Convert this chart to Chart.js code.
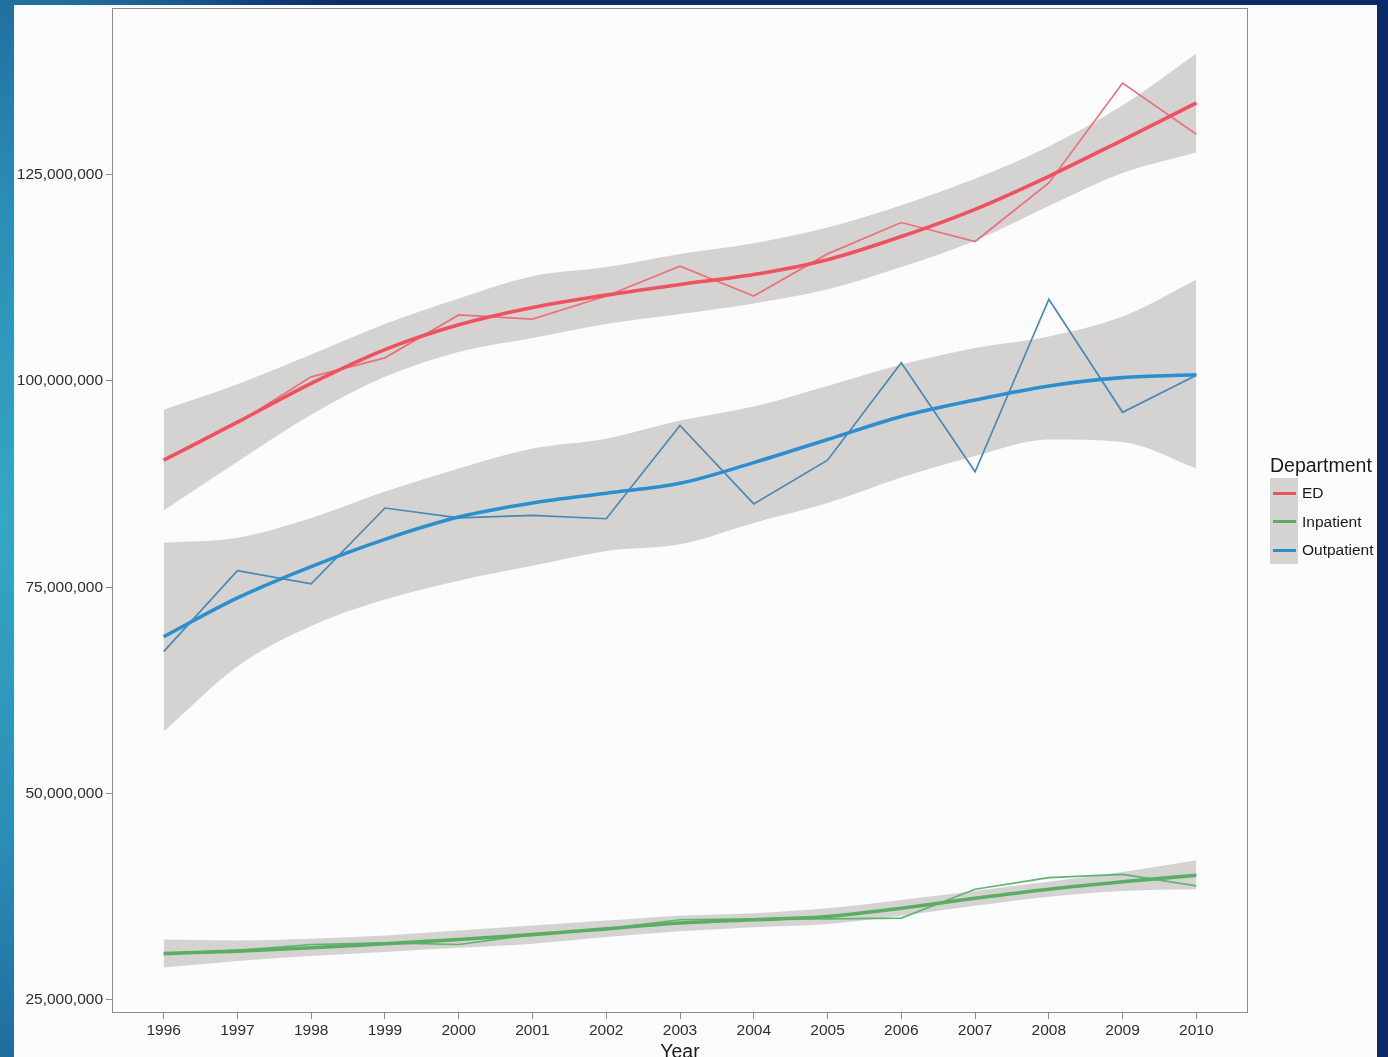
<!DOCTYPE html>
<html>
<head>
<meta charset="utf-8">
<title>Visits by Department, 1996–2010</title>
<script src="https://cdn.jsdelivr.net/npm/chart.js@4.4.1/dist/chart.umd.min.js"></script>
<style>
  html, body { margin: 0; padding: 0; width: 1388px; height: 1057px; overflow: hidden; }
  body {
    position: relative;
    background: radial-gradient(ellipse 420px 900px at 0px 520px, #35a6c8 0%, #2b8db5 35%, #1f6a9a 62%, #0f3a75 88%, #0b2b68 100%), #0b2b68;
    font-family: "Liberation Sans", Arial, Helvetica, sans-serif;
  }
  #card { position: absolute; left: 14px; top: 5px; width: 1363px; height: 1080px; background: #fcfcfc; }
  #wrap { position: absolute; left: 0; top: 0; width: 1388px; height: 1070px; }
  #legend-title { position: absolute; left: 1270px; top: 453px; font-size: 19.5px; line-height: 24px; color: #1a1a1a; white-space: nowrap; }
  #legend-keys { position: absolute; left: 1270px; top: 478px; width: 28px; background: #d6d3d3; }
  .key-row { position: relative; height: 28.67px; }
  .key-line { position: absolute; left: 3px; width: 23px; height: 3px; top: 13.5px; }
  .key-label { position: absolute; left: 32px; top: 1px; line-height: 28.67px; font-size: 15.5px; color: #1a1a1a; white-space: nowrap; }
</style>
</head>
<body>
<div id="card"></div>
<div id="wrap"><canvas id="chart" width="1388" height="1070"></canvas></div>
<div id="legend-title">Department</div>
<div id="legend-keys"></div>

<script>
// Years on the x axis
const years = [1996, 1997, 1998, 1999, 2000, 2001, 2002, 2003, 2004, 2005, 2006, 2007, 2008, 2009, 2010];

// Annual visits, in millions
const edRaw  = [90.4, 94.9, 100.5, 102.8, 108.0, 107.5, 110.3, 113.9, 110.3, 115.4, 119.2, 116.9, 124.0, 136.1, 129.9];
const inRaw  = [30.6, 31.0, 31.7, 31.9, 31.7, 32.9, 33.6, 34.7, 34.8, 34.8, 34.9, 38.4, 39.8, 40.2, 38.8];
const outRaw = [67.2, 77.0, 75.4, 84.6, 83.4, 83.7, 83.3, 94.6, 85.1, 90.4, 102.2, 89.0, 109.9, 96.2, 100.7];

// Loess trend and its confidence band, in millions
const edSmooth  = [90.4, 95.0, 99.7, 103.8, 106.8, 108.9, 110.4, 111.7, 112.9, 114.7, 117.5, 120.8, 124.8, 129.2, 133.7];
const edUpper   = [96.5, 99.6, 103.2, 106.9, 110.0, 112.7, 113.8, 115.4, 116.7, 118.6, 121.3, 124.5, 128.4, 133.4, 139.7];
const edLower   = [84.3, 90.2, 95.9, 100.5, 103.5, 105.2, 106.9, 108.1, 109.4, 111.1, 113.8, 117.0, 121.2, 125.2, 127.7];

const inSmooth  = [30.6, 30.9, 31.3, 31.8, 32.3, 32.9, 33.6, 34.3, 34.7, 35.1, 36.1, 37.3, 38.4, 39.3, 40.1];
const inUpper   = [32.3, 32.2, 32.4, 32.8, 33.4, 34.0, 34.6, 35.2, 35.5, 36.1, 37.1, 38.2, 39.3, 40.5, 41.9];
const inLower   = [28.9, 29.7, 30.3, 30.8, 31.3, 31.8, 32.6, 33.3, 33.8, 34.2, 35.2, 36.4, 37.5, 38.2, 38.4];

const outSmooth = [69.0, 73.7, 77.5, 80.8, 83.5, 85.2, 86.4, 87.6, 90.1, 92.9, 95.7, 97.7, 99.4, 100.4, 100.75];
const outUpper  = [80.4, 81.0, 83.4, 86.6, 89.4, 91.8, 93.0, 95.2, 96.9, 99.4, 102.0, 104.0, 105.4, 107.8, 112.3];
const outLower  = [57.5, 65.4, 70.3, 73.5, 75.8, 77.6, 79.4, 80.2, 82.8, 85.2, 88.3, 90.9, 92.9, 92.6, 89.4];

// Axis ticks
const yTicks = [25e6, 50e6, 75e6, 100e6, 125e6];
const xTicks = years;

// Department names and colours
const departments = ['ED', 'Inpatient', 'Outpatient'];
const trendColors = ['#ee525e', '#5aae63', '#2b8fcd'];
const rawColors   = ['#ea717a', '#62b46c', '#4789b3'];
const bandFill    = 'rgba(156, 148, 148, 0.4)';

const toPoints = arr => arr.map((v, i) => ({ x: years[i], y: v * 1e6 }));

const rawSets = [edRaw, inRaw, outRaw];
const smoothSets = [edSmooth, inSmooth, outSmooth];
const bandSets = [[edUpper, edLower], [inUpper, inLower], [outUpper, outLower]];

const datasets = [];
// confidence bands: upper edge filled down to the next (lower) dataset
bandSets.forEach(([up, lo], k) => {
  datasets.push({
    label: departments[k] + ' upper',
    data: toPoints(up),
    borderWidth: 0,
    pointRadius: 0,
    cubicInterpolationMode: 'monotone',
    fill: { target: '+1', above: bandFill, below: bandFill },
    order: 3
  });
  datasets.push({
    label: departments[k] + ' lower',
    data: toPoints(lo),
    borderWidth: 0,
    pointRadius: 0,
    cubicInterpolationMode: 'monotone',
    fill: false,
    order: 3
  });
});
// observed values
rawSets.forEach((arr, k) => datasets.push({
  label: departments[k] + ' observed',
  data: toPoints(arr),
  borderColor: rawColors[k],
  borderWidth: 1.7,
  pointRadius: 0,
  tension: 0,
  fill: false,
  order: 2
}));
// loess trend lines on top
smoothSets.forEach((arr, k) => datasets.push({
  label: departments[k],
  data: toPoints(arr),
  borderColor: trendColors[k],
  borderWidth: 3.6,
  pointRadius: 0,
  cubicInterpolationMode: 'monotone',
  fill: false,
  order: 1
}));

// Panel border drawn over the data, like a framed plotting panel
const panelBorder = {
  id: 'panelBorder',
  afterDatasetsDraw(chart) {
    const { ctx, chartArea: a } = chart;
    ctx.save();
    ctx.strokeStyle = '#8c8c8c';
    ctx.lineWidth = 1;
    ctx.strokeRect(a.left + 0.5, a.top + 0.5, a.right - a.left - 1, a.bottom - a.top - 1);
    ctx.restore();
  }
};

const tickFont = { family: '"Liberation Sans", Arial, sans-serif', size: 15.5 };

new Chart(document.getElementById('chart'), {
  type: 'line',
  data: { datasets },
  options: {
    responsive: false,
    animation: false,
    events: [],
    layout: { padding: { top: 8, right: 140, left: 0, bottom: 0 } },
    plugins: {
      legend: { display: false },
      tooltip: { enabled: false },
      filler: { propagate: false }
    },
    scales: {
      x: {
        type: 'linear',
        min: 1995.3,
        max: 2010.7,
        afterBuildTicks: s => { s.ticks = xTicks.map(v => ({ value: v })); },
        afterFit: s => { s.height = 57; s.paddingLeft = 0; s.paddingRight = 0; },
        ticks: {
          color: '#2e2e2e',
          font: tickFont,
          padding: 2,
          maxRotation: 0,
          autoSkip: false,
          callback: v => String(v)
        },
        grid: { drawOnChartArea: false, drawTicks: true, tickLength: 6, color: '#8c8c8c', lineWidth: 1 },
        border: { display: false },
        title: {
          display: true,
          text: 'Year',
          color: '#1a1a1a',
          font: { family: '"Liberation Sans", Arial, sans-serif', size: 19.5 },
          padding: { top: 0, bottom: 6 }
        }
      },
      y: {
        type: 'linear',
        min: 23.4e6,
        max: 145.2e6,
        afterBuildTicks: s => { s.ticks = yTicks.map(v => ({ value: v })); },
        afterFit: s => { s.width = 112; s.paddingTop = 0; s.paddingBottom = 0; },
        ticks: {
          color: '#2e2e2e',
          font: tickFont,
          padding: 3,
          autoSkip: false,
          callback: v => Math.round(v).toLocaleString('en-US')
        },
        grid: { drawOnChartArea: false, drawTicks: true, tickLength: 6, color: '#8c8c8c', lineWidth: 1 },
        border: { display: false }
      }
    }
  },
  plugins: [panelBorder]
});

// Legend keys built from the department list
const keys = document.getElementById('legend-keys');
departments.forEach((name, k) => {
  const row = document.createElement('div');
  row.className = 'key-row';
  const line = document.createElement('div');
  line.className = 'key-line';
  line.style.background = trendColors[k];
  const label = document.createElement('div');
  label.className = 'key-label';
  label.textContent = name;
  row.appendChild(line);
  row.appendChild(label);
  keys.appendChild(row);
});
</script>
</body>
</html>
